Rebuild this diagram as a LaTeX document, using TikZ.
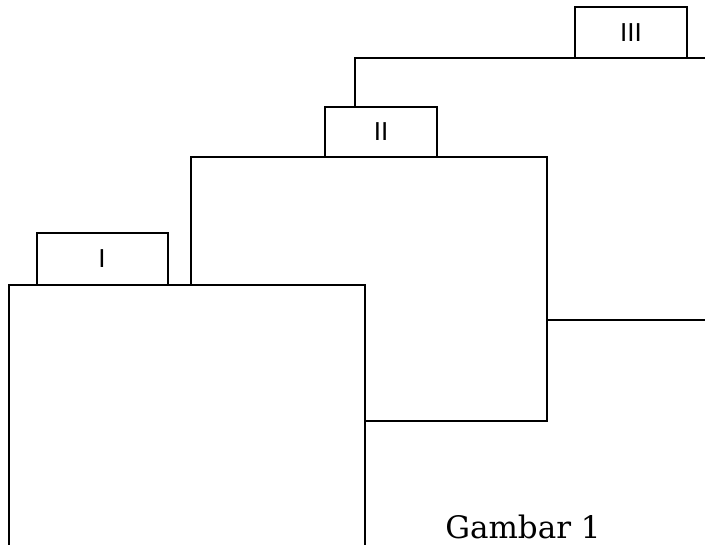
\documentclass[tikz,border=0pt]{standalone}
\usepackage{fontspec}
\setmainfont{DejaVu Serif}
\newfontfamily\lab{Liberation Sans}
\begin{document}
\begin{tikzpicture}[x=1pt,y=-1pt,line width=2pt,
  lbox/.style={draw,rectangle,inner sep=0pt,outer sep=0pt,font=\lab\fontsize{26}{30}\selectfont}]
\useasboundingbox (0,0) rectangle (705,545);
% big box A (open at bottom)
\coordinate (Abl) at (9,546);
\coordinate (Atl) at (9,285);
\coordinate (Atr) at (365,285);
\coordinate (Abr) at (365,546);
\draw (Abl) -- (Atl) -- (Atr) -- (Abr);
% box B
\coordinate (Bbl) at (191,285);
\coordinate (Btl) at (191,157);
\coordinate (Btr) at (547,157);
\coordinate (Bbr) at (547,421);
\coordinate (Bbm) at (365,421);
\draw (Bbl) -- (Btl) -- (Btr) -- (Bbr) -- (Bbm);
% labels
\node[lbox,minimum width=131pt,minimum height=52pt,anchor=north west] (I) at (36.5,233) {I};
\node[lbox,minimum width=112pt,minimum height=50pt,anchor=north west] (II) at (325,107) {II};
\node[lbox,minimum width=112pt,minimum height=51pt,anchor=north west] (III) at (575,7) {III};
% connectors
\coordinate (c1) at (355,58);
\coordinate (Rtop) at (706,58);
\coordinate (Bmid) at (547,320);
\coordinate (Rmid) at (706,320);
\draw (II.north -| c1) -- (c1) -- (c1 -| III.west);
\draw (c1 -| III.east) -- (Rtop);
\draw (Bmid) -- (Rmid);
\node[font=\fontsize{31}{36}\selectfont,anchor=base,inner sep=0pt] (cap) at (523,539) {Gambar 1};
\end{tikzpicture}
\end{document}
